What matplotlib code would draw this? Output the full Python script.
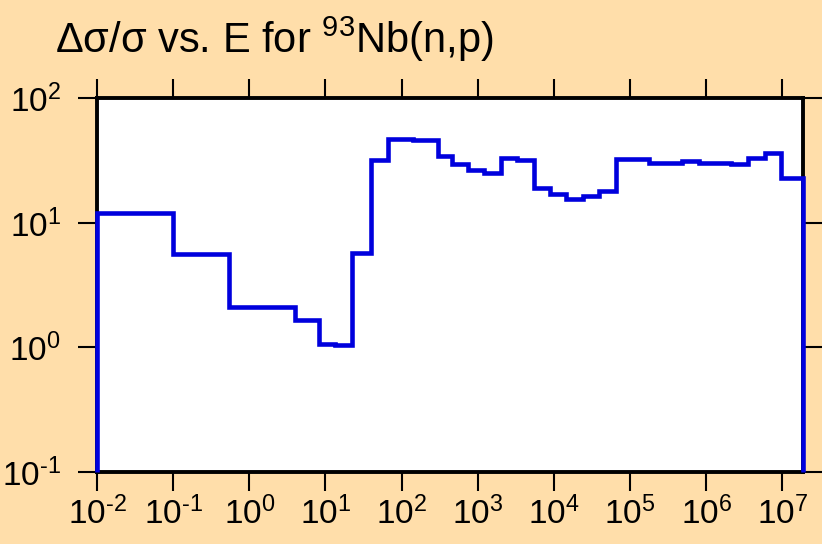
import matplotlib
matplotlib.use("Agg")
import matplotlib.pyplot as plt
from matplotlib.ticker import FuncFormatter, NullLocator
import numpy as np

plt.rcParams['font.family'] = ['Liberation Sans', 'DejaVu Sans']
plt.rcParams['mathtext.default'] = 'regular'

# group boundaries (eV) and relative uncertainty (%) per group
energy_edges = [1e-2, 0.1, 0.543, 3.96, 8.26, 13.4, 22.4, 40.2, 66.7, 142,
                300, 453, 743, 1217, 2018, 3273, 5410, 8970, 14550, 24330,
                39480, 66070, 1.794e5, 3.0e5, 4.86e5, 8.07e5, 1.32e6, 2.14e6,
                3.55e6, 6.0e6, 9.64e6, 1.87e7]
rel_unc = [12.0, 5.66, 2.10, 1.66, 1.06, 1.04, 5.72, 31.9, 46.9, 46.6,
           34.4, 29.5, 26.7, 25.1, 33.0, 31.9, 19.2, 16.9, 15.6, 16.3,
           18.0, 32.8, 30.5, 30.0, 31.2, 30.2, 30.5, 29.5, 33.1, 36.4, 22.9]
x_decades = [1e-2, 1e-1, 1e0, 1e1, 1e2, 1e3, 1e4, 1e5, 1e6, 1e7]
y_decades = [1e-1, 1e0, 1e1, 1e2]


def decade_label(v, pos):
    p = int(round(np.log10(v)))
    exp = str(p).replace('-', '\u2010')  # plain hyphen, not a math minus
    return '$10^{%s}$' % exp


bg = '#FFDEAA'
fig = plt.figure(figsize=(8.22, 5.44), dpi=100, facecolor=bg)
ax = fig.add_axes([0.118, 0.1324, 0.859, 0.6869])
ax.set_facecolor('white')

ax.stairs(rel_unc, energy_edges, baseline=0.1, color='#0000DD',
          linewidth=3.3, clip_on=False, zorder=3)

ax.set_xscale('log')
ax.set_yscale('log')
ax.set_xlim(energy_edges[0], energy_edges[-1])
ax.set_ylim(0.1, 100)
ax.set_xticks(x_decades)
ax.set_yticks(y_decades)
ax.xaxis.set_minor_locator(NullLocator())
ax.yaxis.set_minor_locator(NullLocator())
ax.xaxis.set_major_formatter(FuncFormatter(decade_label))
ax.yaxis.set_major_formatter(FuncFormatter(decade_label))

for s in ax.spines.values():
    s.set_linewidth(2.8)
ax.tick_params(which='major', direction='out', length=14, width=1.5,
               top=True, right=True, labelsize=24, color='black')
ax.tick_params(axis='x', pad=4)
ax.tick_params(axis='y', pad=12)

fig.text(55 / 822, 1 - 53 / 544, 'Δσ/σ vs. E for $^{93}$Nb(n,p)',
         fontsize=30, ha='left', va='baseline')

fig.savefig('out.png', dpi=100, facecolor=bg)
